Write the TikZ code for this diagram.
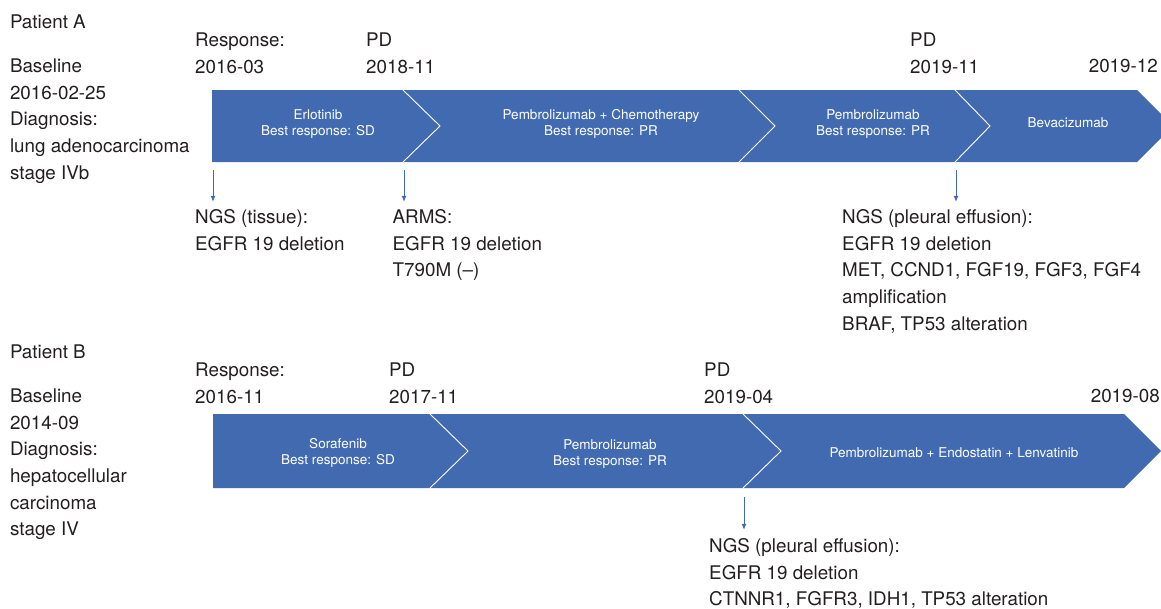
\documentclass[tikz,border=0pt]{standalone}
\usepackage{fontspec}
\setmainfont{TeX Gyre Heros}
\usetikzlibrary{arrows.meta}
\definecolor{bandblue}{RGB}{65,106,177}
\definecolor{txtc}{RGB}{35,31,32}
\newcommand{\mlines}[1]{\begin{tabular}[t]{@{}l@{}}#1\end{tabular}}
\newcommand{\mcen}[1]{\begin{tabular}[t]{@{}c@{}}#1\end{tabular}}
\tikzset{
  lbl/.style={font=\fontsize{18.8}{26.6}\selectfont, text=txtc, inner sep=0pt, anchor=base west},
  bt/.style={font=\fontsize{13.5}{16}\selectfont, text=white, inner sep=0pt, anchor=base},
  band/.style={fill=bandblue},
  sepline/.style={draw=white, line width=0.9pt},
  arr/.style={draw=bandblue, line width=0.9pt, -{Latex[length=6pt,width=5pt]}}
}
\begin{document}
\begin{tikzpicture}[x=1pt,y=-1pt]
\useasboundingbox (0,0) rectangle (1161,608);
\clip (0,0) rectangle (1161,608);
% ---------------- Patient A ----------------
\fill[band] (212,90) -- (1137,90) -- (1173,126) -- (1137,162) -- (212,162) -- cycle;
\draw[sepline] (403,90) -- (440,126) -- (403,162);
\draw[sepline] (739,90) -- (775,126) -- (739,162);
\draw[sepline] (955,90) -- (990,126) -- (955,162);

\node[lbl] (pa) at (9.8,28.6) {Patient A};
\node[lbl] (pacol) at (9.8,72.6) {\mlines{Baseline\\2016-02-25\\Diagnosis:\\lung adenocarcinoma\\stage IVb}};
\node[lbl] (ar1) at (195,46.6) {\mlines{Response:\\2016-03}};
\node[lbl] (ar2) at (366,46.6) {\mlines{PD\\2018-11}};
\node[lbl] (ar3) at (910,46.6) {\mlines{PD\\2019-11}};
\node[lbl, anchor=base east] (ar4) at (1158,72.6) {2019-12};

\node[bt] (sa1) at (318,119) {\mcen{Erlotinib\\Best response: SD}};
\node[bt] (sa2) at (601,119) {\mcen{Pembrolizumab + Chemotherapy\\Best response: PR}};
\node[bt] (sa3) at (873,119) {\mcen{Pembrolizumab\\Best response: PR}};
\node[bt] (sa4) at (1068,127.5) {Bevacizumab};

\node[lbl] (na1) at (195,223.6) {\mlines{NGS (tissue):\\EGFR 19 deletion}};
\node[lbl] (na2) at (392.5,223.6) {\mlines{ARMS:\\EGFR 19 deletion\\T790M (--)}};
\node[lbl] (na3) at (842,223.6) {\mlines{NGS (pleural effusion):\\EGFR 19 deletion\\MET, CCND1, FGF19, FGF3, FGF4\\amplification\\BRAF, TP53 alteration}};

\coordinate (a1) at (213,170);
\coordinate (a2) at (404,170);
\coordinate (a3) at (956,170);
\draw[arr] (a1) -- ([yshift=3pt]a1 |- na1.north);
\draw[arr] (a2) -- ([yshift=3pt]a2 |- na2.north);
\draw[arr] (a3) -- ([yshift=3pt]a3 |- na3.north);

% ---------------- Patient B ----------------
\fill[band] (213,414) -- (1124,414) -- (1161,451) -- (1124,488) -- (213,488) -- cycle;
\draw[sepline] (430,414) -- (468,451) -- (430,488);
\draw[sepline] (743,414) -- (781,451) -- (743,488);

\node[lbl] (pb) at (9.8,358.6) {Patient B};
\node[lbl] (pbcol) at (9.8,402.6) {\mlines{Baseline\\2014-09\\Diagnosis:\\hepatocellular\\carcinoma\\stage IV}};
\node[lbl] (br1) at (195,376.6) {\mlines{Response:\\2016-11}};
\node[lbl] (br2) at (389,376.6) {\mlines{PD\\2017-11}};
\node[lbl] (br3) at (704,376.6) {\mlines{PD\\2019-04}};
\node[lbl, anchor=base east] (br4) at (1160,402.6) {2019-08};

\node[bt] (sb1) at (338,448.8) {\mcen{Sorafenib\\Best response: SD}};
\node[bt] (sb2) at (610,449.8) {\mcen{Pembrolizumab\\Best response: PR}};
\node[bt] (sb3) at (954,457.8) {Pembrolizumab + Endostatin + Lenvatinib};

\node[lbl] (nb1) at (709,552.6) {\mlines{NGS (pleural effusion):\\EGFR 19 deletion\\CTNNR1, FGFR3, IDH1, TP53 alteration}};

\coordinate (b1) at (744,497);
\draw[arr] (b1) -- ([yshift=4pt]b1 |- nb1.north);
\end{tikzpicture}
\end{document}
